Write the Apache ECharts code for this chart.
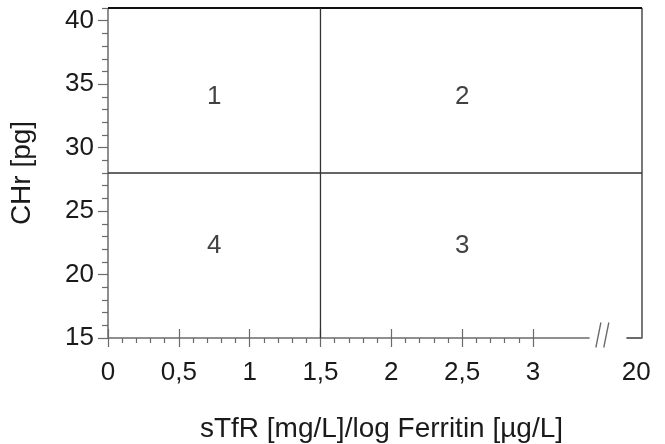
<!DOCTYPE html>
<html>
<head>
<meta charset="utf-8">
<script src="https://cdn.jsdelivr.net/npm/echarts@6/dist/echarts.min.js"></script>
<style>html,body{margin:0;padding:0;background:#fff}#c{width:665px;height:444px}</style>
</head>
<body>
<div id="c"></div>
<script>
// ---- data ----
var xMin = 0, xMax = 3.77;          // 3.77 on the compressed scale corresponds to 20
var yMin = 15, yMax = 41;
var xMajorValues = [0, 0.5, 1, 1.5, 2, 2.5, 3];
var xMajorLabels = ['0', '0,5', '1', '1,5', '2', '2,5', '3'];
var xBreakLabelValue = 3.73, xBreakLabel = '20';
var xBreakStart = 3.40, xBreakEnd = 3.66, xBreakMark = 3.49;
var yMajorValues = [15, 20, 25, 30, 35, 40];
var xDivider = 1.5;   // sTfR/log Ferritin cut-off
var yDivider = 28;    // CHr cut-off
var quadrantNames = ['1', '2', '3', '4'];
var quadrantX = [0.75, 2.5, 2.5, 0.75];
var quadrantY = [34, 34, 22.3, 22.3];
var xTitle = 'sTfR [mg/L]/log Ferritin [µg/L]';
var yTitle = 'CHr [pg]';

// minor tick positions
var xMinor = [];
for (var i = 1; i < 30; i++) { if (i % 5 !== 0) xMinor.push(i / 10); }
var yMinor = [];
for (var j = 16; j <= 41; j++) { if (j % 5 !== 0) yMinor.push(j); }

var FONT = 'Liberation Sans';
var TXT = '#1a1a1a';
var AX = '#6a6a6a';
var LBL = 26, TTL = 28;

function xAxisBase(extra) {
  var a = {
    type: 'value', min: xMin, max: xMax, position: 'bottom', offset: 0,
    axisLine: { show: false, onZero: false }, splitLine: { show: false },
    axisTick: { show: false }, axisLabel: { show: false }
  };
  for (var k in extra) a[k] = extra[k];
  return a;
}
function yAxisBase(extra) {
  var a = {
    type: 'value', min: yMin, max: yMax, position: 'left', offset: 0,
    axisLine: { show: false, onZero: false }, splitLine: { show: false },
    axisTick: { show: false }, axisLabel: { show: false }
  };
  for (var k in extra) a[k] = extra[k];
  return a;
}

var chart = echarts.init(document.getElementById('c'), null, { renderer: 'canvas' });
var option = {
  animation: false,
  backgroundColor: '#fff',
  textStyle: { fontFamily: FONT },
  grid: { left: 108, right: 23, top: 8, bottom: 106, containLabel: false, outerBoundsMode: 'none' },
  xAxis: [
    xAxisBase({
      axisTick: { show: true, customValues: xMinor, length: 5, inside: false, lineStyle: { color: AX, width: 1.2 } },
      name: xTitle, nameLocation: 'middle', nameGap: 77,
      nameTextStyle: { fontFamily: FONT, fontSize: TTL, color: TXT, padding: [0, 0, 0, 13] }
    }),
    xAxisBase({
      axisTick: { show: true, customValues: xMajorValues, length: 9, inside: true, lineStyle: { color: AX, width: 1.2 } }
    }),
    xAxisBase({
      axisTick: { show: true, customValues: xMajorValues, length: 9, inside: false, lineStyle: { color: AX, width: 1.2 } },
      axisLabel: {
        show: true, customValues: xMajorValues.concat([xBreakLabelValue]), margin: 22,
        fontFamily: FONT, fontSize: LBL, color: TXT,
        formatter: function (v) {
          if (Math.abs(v - xBreakLabelValue) < 1e-6) return xBreakLabel;
          for (var n = 0; n < xMajorValues.length; n++) {
            if (Math.abs(v - xMajorValues[n]) < 1e-6) return xMajorLabels[n];
          }
          return '';
        }
      }
    })
  ],
  yAxis: [
    yAxisBase({
      axisTick: { show: true, customValues: yMinor, length: 6, lineStyle: { color: AX, width: 1.2 } },
      name: yTitle, nameLocation: 'middle', nameGap: 72, nameRotate: 90,
      nameTextStyle: { fontFamily: FONT, fontSize: TTL, color: TXT }
    }),
    yAxisBase({
      axisTick: { show: true, customValues: yMajorValues, length: 10, lineStyle: { color: AX, width: 1.2 } },
      axisLabel: {
        show: true, customValues: yMajorValues, margin: 14,
        fontFamily: FONT, fontSize: LBL, color: TXT
      }
    })
  ],
  series: [
    // left axis line
    { type: 'line', xAxisIndex: 0, yAxisIndex: 0, data: [[xMin, yMin], [xMin, yMax]], symbol: 'none', clip: false,
      lineStyle: { color: AX, width: 1.5 }, silent: true },
    // bottom axis line (before the break)
    { type: 'line', xAxisIndex: 0, yAxisIndex: 0, data: [[xMin, yMin], [xBreakStart, yMin]], symbol: 'none', clip: false,
      lineStyle: { color: AX, width: 1.5 }, silent: true },
    // bottom axis line (after the break) + right border
    { type: 'line', xAxisIndex: 0, yAxisIndex: 0, data: [[xBreakEnd, yMin], [xMax, yMin], [xMax, yMax]], symbol: 'none', clip: false,
      lineStyle: { color: AX, width: 1.8 }, silent: true },
    // top border
    { type: 'line', xAxisIndex: 0, yAxisIndex: 0, data: [[xMin, yMax], [xMax, yMax]], symbol: 'none', clip: false,
      lineStyle: { color: '#111', width: 2 }, silent: true },
    // cut-off lines
    { type: 'line', xAxisIndex: 0, yAxisIndex: 0, data: [[xMin, yDivider], [xMax, yDivider]], symbol: 'none',
      lineStyle: { color: '#333', width: 1.3 }, silent: true },
    { type: 'line', xAxisIndex: 0, yAxisIndex: 0, data: [[xDivider, yMin], [xDivider, yMax]], symbol: 'none',
      lineStyle: { color: '#333', width: 1.3 }, silent: true },
    // axis break mark "//"
    { type: 'scatter', xAxisIndex: 0, yAxisIndex: 0, data: [[xBreakMark, yMin]], clip: false, silent: true,
      symbol: 'path://M7,0 L0,25 M18,0 L11,25', symbolSize: [18, 25], symbolKeepAspect: true,
      symbolOffset: [0, -3],
      itemStyle: { color: 'none', borderColor: '#444', borderWidth: 1.6 } },
    // quadrant labels
    { type: 'scatter', xAxisIndex: 0, yAxisIndex: 0, silent: true, symbolSize: 0,
      data: quadrantNames.map(function (n, i) { return { name: n, value: [quadrantX[i], quadrantY[i]] }; }),
      label: { show: true, position: 'inside', formatter: '{b}', fontFamily: FONT, fontSize: LBL, color: '#111' } }
  ]
};
chart.setOption(option);
</script>
</body>
</html>
